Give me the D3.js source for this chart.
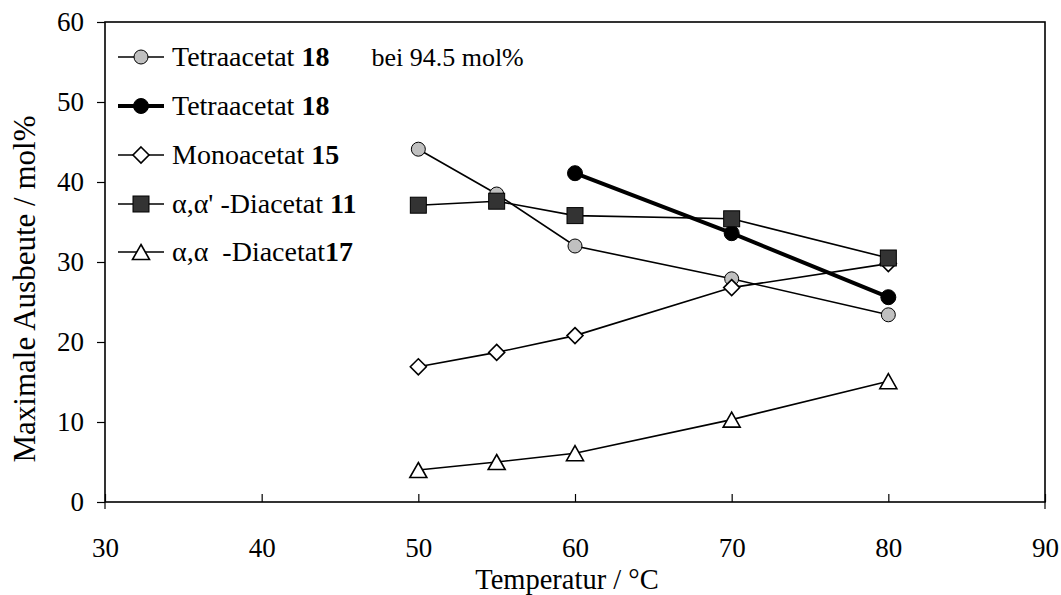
<!DOCTYPE html>
<html>
<head>
<meta charset="utf-8">
<script src="https://cdn.jsdelivr.net/npm/d3@7"></script>
<style>
  body { margin: 0; background: #fff; }
  svg { display: block; }
  text { font-family: "Liberation Serif", "Times New Roman", serif; fill: #000; }
</style>
</head>
<body>
<svg id="chart" width="1061" height="595"></svg>
<script>
// ---- data ----
const temps = [50, 55, 60, 70, 80];
const tetraTemps = [60, 70, 80];
const tetraacetat945 = [44.1, 38.5, 32.0, 27.9, 23.4];
const tetraacetat = [41.1, 33.6, 25.6];
const monoacetat = [16.9, 18.7, 20.8, 26.8, 29.8];
const diacetat11 = [37.1, 37.6, 35.8, 35.4, 30.5];
const diacetat17 = [4.0, 5.0, 6.1, 10.3, 15.1];
const xTicks = [30, 40, 50, 60, 70, 80, 90];
const yTicks = [0, 10, 20, 30, 40, 50, 60];
const xTitle = "Temperatur / °C";
const yTitle = "Maximale Ausbeute / mol%";

const svg = d3.select("#chart");
const L = 105, R = 1045, T = 22, B = 502;
const x = d3.scaleLinear().domain([30, 90]).range([L, R]);
const y = d3.scaleLinear().domain([0, 60]).range([B, T]);
const FS = 27;
const LFS = 28;

// axes
const gx = svg.append("g").attr("transform", `translate(0,${B})`)
  .call(d3.axisBottom(x).tickValues(xTicks).tickSizeInner(-8).tickSizeOuter(0).tickPadding(36));
const gy = svg.append("g").attr("transform", `translate(${L},0)`)
  .call(d3.axisLeft(y).tickValues(yTicks).tickSizeInner(8).tickSizeOuter(0).tickPadding(13));
[gx, gy].forEach(g => {
  g.select(".domain").remove();
  g.selectAll(".tick line").attr("stroke", "#000").attr("stroke-width", 1.2);
  g.selectAll(".tick text").style("font-size", FS + "px").attr("fill", "#000");
});
// extend end ticks of x axis below
svg.append("g").selectAll("line").data([30, 90]).join("line")
  .attr("x1", d => x(d)).attr("x2", d => x(d)).attr("y1", B).attr("y2", B + 7)
  .attr("stroke", "#000").attr("stroke-width", 1.2);

// frame
svg.append("rect").attr("x", L).attr("y", T).attr("width", R - L).attr("height", B - T)
  .attr("fill", "none").attr("stroke", "#000").attr("stroke-width", 1.6);

// titles
svg.append("text").attr("x", 567).attr("y", 589).attr("text-anchor", "middle")
  .style("font-size", "28.5px").text(xTitle);
svg.append("text").attr("transform", "translate(35,289) rotate(-90)").attr("text-anchor", "middle")
  .style("font-size", "31px").text(yTitle);

// marker drawing
function marker(g, type, cx, cy) {
  if (type === "circleGray") {
    g.append("circle").attr("cx", cx).attr("cy", cy).attr("r", 7)
      .attr("fill", "#c0c0c0").attr("stroke", "#000").attr("stroke-width", 1);
  } else if (type === "circleBlack") {
    g.append("circle").attr("cx", cx).attr("cy", cy).attr("r", 7.5)
      .attr("fill", "#000").attr("stroke", "#000").attr("stroke-width", 1);
  } else if (type === "diamond") {
    const s = 8;
    g.append("path").attr("d", `M${cx},${cy - s}L${cx + s},${cy}L${cx},${cy + s}L${cx - s},${cy}Z`)
      .attr("fill", "#fff").attr("stroke", "#000").attr("stroke-width", 1.6);
  } else if (type === "square") {
    const s = 8;
    g.append("rect").attr("x", cx - s).attr("y", cy - s).attr("width", 2 * s).attr("height", 2 * s)
      .attr("fill", "#333").attr("stroke", "#000").attr("stroke-width", 1);
  } else if (type === "triangle") {
    const w = 8.5, h = 7.5;
    g.append("path").attr("d", `M${cx},${cy - h}L${cx + w},${cy + h}L${cx - w},${cy + h}Z`)
      .attr("fill", "#fff").attr("stroke", "#000").attr("stroke-width", 1.6);
  }
}

const series = [
  { xs: temps, ys: tetraacetat945, m: "circleGray", w: 1.6, label: ["Tetraacetat ", "18", "bei 94.5 mol%"] },
  { xs: tetraTemps, ys: tetraacetat, m: "circleBlack", w: 4, label: ["Tetraacetat ", "18", ""] },
  { xs: temps, ys: monoacetat, m: "diamond", w: 1.6, label: ["Monoacetat ", "15", ""] },
  { xs: temps, ys: diacetat11, m: "square", w: 1.6, label: ["\u03b1,\u03b1' -Diacetat ", "11", ""] },
  { xs: temps, ys: diacetat17, m: "triangle", w: 1.6, label: ["\u03b1,\u03b1\u00a0\u00a0-Diacetat", "17", ""] }
];

const line = d3.line().x(d => x(d[0])).y(d => y(d[1]));
series.forEach(s => {
  const g = svg.append("g");
  const pts = s.xs.map((t, i) => [t, s.ys[i]]);
  g.append("path").attr("d", line(pts)).attr("fill", "none")
    .attr("stroke", "#000").attr("stroke-width", s.w);
  pts.forEach(p => marker(g, s.m, x(p[0]), y(p[1])));
});

// legend
const legY = [57, 106, 155, 204, 252];
const leg = svg.append("g");
series.forEach((s, i) => {
  const ly = legY[i];
  leg.append("line").attr("x1", 118).attr("x2", 164).attr("y1", ly).attr("y2", ly)
    .attr("stroke", "#000").attr("stroke-width", s.w);
  marker(leg, s.m, 141, ly);
  const t = leg.append("text").attr("x", 172).attr("y", ly + 9).style("font-size", LFS + "px")
    .attr("xml:space", "preserve").style("white-space", "pre");
  t.append("tspan").text(s.label[0]);
  t.append("tspan").style("font-weight", "bold").text(s.label[1]);
  if (s.label[2]) t.append("tspan").attr("dx", 42).style("font-size", "26px").text(s.label[2]);
});
</script>
</body>
</html>
